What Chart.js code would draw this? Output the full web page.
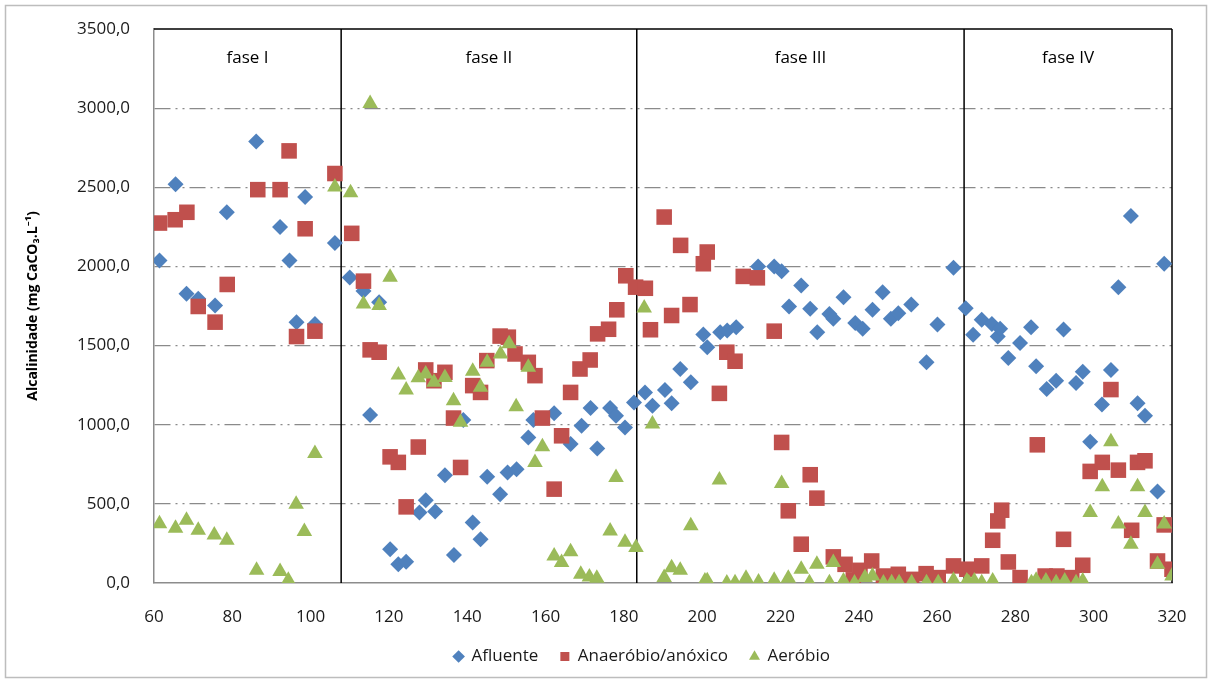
<!DOCTYPE html>
<html><head><meta charset="utf-8">
<script src="https://cdn.jsdelivr.net/npm/chart.js@4/dist/chart.umd.min.js"></script>
<style>html,body{margin:0;padding:0;background:#fff;}#wrap{width:1212px;height:683px;position:relative;}</style>
</head><body><div id="wrap"><canvas id="c" width="1212" height="683"></canvas></div>
<script>
// ---- data (dias, mg CaCO3/L) ----
const afluenteX = [61.4,65.5,68.3,71.3,75.6,78.6,86.1,92.2,94.6,96.4,98.6,101.1,106.2,110,113.5,115.2,117.5,120.3,122.4,124.4,127.8,129.4,131.8,134.3,136.6,139,141.4,143.4,145.1,148.4,150.3,152.6,155.6,156.9,162.2,166.4,169.2,171.5,173.2,176.5,178,180.3,182.6,185.4,187.3,190.5,192.2,194.4,197.1,200.3,201.3,204.6,206.4,208.7,214.3,218.4,220.3,222.2,225.3,227.6,229.4,232.5,233.5,236.1,239.1,241,243.5,246.1,248.2,250.1,253.4,257.3,260.1,264.2,267.3,269.2,271.4,274,275.5,276.1,278.2,281.2,284,285.3,288,290.4,292.3,295.5,297.2,299.1,302.1,304.4,306.3,309.5,311.2,313.1,316.3,318,320];
const afluenteY = [2038,2519,1827,1796,1753,2342,2789,2249,2038,1648,2439,1637,2148,1930,1844,1061,1774,213,118,135,445,523,451,681,177,1030,382,276,671,561,698,719,920,1030,1072,878,994,1105,850,1105,1057,983,1141,1204,1120,1220,1135,1352,1268,1570,1489,1584,1595,1616,2000,2000,1970,1747,1880,1732,1584,1700,1669,1806,1642,1606,1726,1837,1669,1704,1759,1394,1633,1991,1736,1568,1663,1637,1557,1606,1422,1517,1616,1369,1226,1278,1601,1264,1335,892,1127,1346,1869,2318,1135,1057,578,2017,367];
const anaerobioX = [61.4,65.4,68.4,71.3,75.6,78.7,86.5,92.2,94.5,96.4,98.6,101.1,106.2,110.5,113.5,115.2,117.5,120.3,122.4,124.4,127.5,129.4,131.5,134.3,136.5,138.3,141.4,143.4,145,148.4,150.5,152.2,155.6,157.3,159.2,162.2,164.1,166.4,168.8,171.4,173.3,176.1,178.2,180.5,183,185.5,186.8,190.3,192.2,194.5,196.9,200.3,201.3,204.4,206.3,208.4,210.5,214.1,218.4,220.3,222,225.3,227.6,229.3,233.5,236.5,238.6,240.3,243.3,246.3,250.1,253.5,257.2,260.3,264.2,267.6,271.4,274.2,275.5,276.5,278.2,281.2,285.6,287.6,290.6,292.3,294.4,297.2,299.1,302.2,304.4,306.3,309.7,311.2,313.1,316.3,318,320];
const anaerobioY = [2274,2295,2342,1747,1648,1886,2485,2485,2730,1557,2238,1591,2587,2209,1907,1473,1458,797,762,481,859,1346,1278,1331,1042,730,1247,1204,1405,1560,1553,1447,1394,1310,1042,593,930,1204,1352,1409,1574,1603,1726,1941,1869,1862,1600,2312,1690,2133,1759,2017,2091,1198,1458,1401,1937,1928,1591,888,456,245,684,536,165,118,20,80,139,44,55,23,59,34,108,87,108,270,392,460,133,34,873,44,44,276,34,112,705,762,1222,713,333,762,772,139,367,87];
const aerobioX = [61.4,65.5,68.3,71.3,75.4,78.6,86.2,92.2,94.3,96.3,98.4,101.1,106.2,110.2,113.5,115.2,117.5,120.3,122.4,124.4,127.5,129.4,131.5,134.3,136.5,138.3,141.4,143.4,145.1,148.5,150.7,152.5,155.6,157.3,159.2,162.2,164.1,166.4,169,171.2,173.1,176.5,178,180.3,183.1,185.2,187.3,190.3,192.2,194.4,197.1,200.7,201.3,204.4,206.3,208.4,211.2,214.4,218.4,220.3,222,225.3,227.4,229.3,232.5,233.5,236.1,238.9,241.6,243.5,246.3,248.4,250.3,253.5,257.3,260.3,264.2,267.6,268.1,269.5,271.4,274.2,284.1,285.3,287.8,290.4,292.6,295.5,297.2,299.1,302.2,304.4,306.3,309.5,311.2,313.1,316.3,318,320];
const aerobioY = [375,346,397,333,304,270,80,72,17,498,325,818,2502,2465,1763,3030,1753,1932,1314,1220,1296,1321,1268,1299,1152,1015,1338,1236,1394,1447,1511,1114,1363,762,861,171,129,198,55,38,30,329,667,258,224,1737,1004,34,97,80,361,13,15,650,0,2,30,6,17,628,30,87,2,118,2,129,13,0,34,44,0,2,2,2,2,2,17,13,2,13,2,13,2,17,13,2,13,2,13,445,608,892,372,245,608,445,118,372,44];
const seriesNames = ['Afluente','Anaeróbio/anóxico','Aeróbio'];
const phaseBounds = [107.8, 183.3, 266.9];
const phaseNames = ['fase I','fase II','fase III','fase IV'];
const xTickValues = [60,80,100,120,140,160,180,200,220,240,260,280,300,320];
const yTickValues = [0,500,1000,1500,2000,2500,3000,3500];
const axisTitleY = 'Alcalinidade (mg CaCO₃.L⁻¹)';

const FAM = "'Open Sans','Noto Sans','DejaVu Sans',sans-serif";
const toPts = (xs, ys) => xs.slice(0, Math.min(xs.length, ys.length)).map((x, i) => ({x, y: ys[i]}));

const phasePlugin = {
  id: 'phases',
  beforeDraw(chart) {
    const ctx = chart.ctx;
    ctx.save();
    ctx.fillStyle = '#fff';
    ctx.fillRect(0, 0, chart.width, chart.height);
    ctx.strokeStyle = '#bdbdbd';
    ctx.lineWidth = 1.5;
    ctx.strokeRect(5.5, 5.5, chart.width - 11, chart.height - 11);
    ctx.restore();
  },
  beforeDatasetsDraw(chart) {
    const {ctx, chartArea: a, scales: {x}} = chart;
    ctx.save();
    ctx.strokeStyle = '#000';
    ctx.lineWidth = 1.5;
    ctx.beginPath();
    ctx.moveTo(a.left, a.top); ctx.lineTo(a.right, a.top);
    ctx.moveTo(a.right, a.top); ctx.lineTo(a.right, a.bottom);
    phaseBounds.forEach(b => { const px = x.getPixelForValue(b); ctx.moveTo(px, a.top); ctx.lineTo(px, a.bottom); });
    ctx.stroke();
    const edges = [x.min, ...phaseBounds, x.max];
    ctx.fillStyle = '#000';
    ctx.font = '17px ' + FAM;
    ctx.textAlign = 'center';
    ctx.textBaseline = 'middle';
    phaseNames.forEach((n, i) => {
      const px = (x.getPixelForValue(edges[i]) + x.getPixelForValue(edges[i + 1])) / 2;
      ctx.fillText(n, px, a.top + 29);
    });
    ctx.restore();
  },
  afterLayout(chart) {
    const lg = chart.legend;
    if (lg) { lg.left += 56; lg.right += 56; }
  }
};

const ds = (label, pts, style, color, r, order) => ({
  label, data: pts, pointStyle: style, backgroundColor: color, borderColor: color,
  pointRadius: r, pointHoverRadius: r, borderWidth: 0, pointBorderWidth: 0, showLine: false, order
});

new Chart(document.getElementById('c'), {
  type: 'scatter',
  data: {
    datasets: [
      ds(seriesNames[0], toPts(afluenteX, afluenteY), 'rectRot', '#4F81BD', 8, 3),
      ds(seriesNames[1], toPts(anaerobioX, anaerobioY), 'rect', '#C0504D', 11, 2),
      ds(seriesNames[2], toPts(aerobioX, aerobioY), 'triangle', '#9BBB59', 9, 1)
    ]
  },
  options: {
    responsive: false, animation: false, devicePixelRatio: 1,
    layout: {padding: {top: 29, right: 40, bottom: 8, left: 0}},
    plugins: {
      legend: {
        position: 'bottom',
        labels: {usePointStyle: true, boxWidth: 9, boxHeight: 9, padding: 22, color: '#1a1a1a',
          font: {size: 17, family: FAM}, sort: (a, b) => a.datasetIndex - b.datasetIndex}
      },
      tooltip: {enabled: false}
    },
    scales: {
      x: {
        type: 'linear', min: 60, max: 320,
        afterBuildTicks: s => { s.ticks = xTickValues.map(v => ({value: v})); },
        ticks: {padding: 24, color: '#1a1a1a', font: {size: 17, family: FAM}, maxRotation: 0},
        grid: {display: false, drawTicks: false},
        border: {color: '#8c8c8c', width: 1.5},
        afterFit: s => { s.height = 43; }
      },
      y: {
        min: 0, max: 3500,
        afterBuildTicks: s => { s.ticks = yTickValues.map(v => ({value: v})); },
        ticks: {padding: 24, color: '#1a1a1a', font: {size: 17, family: FAM},
          callback: v => v.toFixed(1).replace('.', ',')},
        grid: {drawTicks: false, lineWidth: 1.2,
          color: c => (c.tick && (c.tick.value === 0 || c.tick.value === 3500)) ? 'rgba(0,0,0,0)' : '#8a8a8a'},
        border: {color: '#8c8c8c', width: 1.5, dash: [16, 5, 2, 5, 2, 5]},
        title: {display: true, text: axisTitleY, color: '#000',
          font: {size: 14, weight: 'bold', family: FAM}, padding: {top: 25, bottom: 0}},
        afterFit: s => { s.width = 154; s.paddingTop = 0; s.paddingBottom = 0; }
      }
    }
  },
  plugins: [phasePlugin]
});
</script></body></html>
